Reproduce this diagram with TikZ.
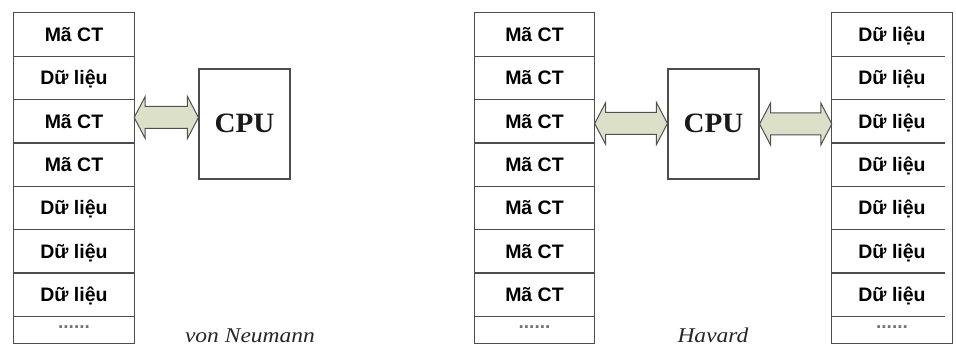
\documentclass[tikz,border=0pt]{standalone}
\usepackage{fontspec}
\setmainfont{Liberation Serif}
\setsansfont{Liberation Sans}
\usepackage{graphicx}
\usetikzlibrary{calc}

\definecolor{frame}{HTML}{4D4D4D}
\definecolor{busfill}{HTML}{DCE0C9}
\definecolor{busline}{HTML}{505050}

\tikzset{
  cell/.style={minimum width=120pt, minimum height=43.3pt, inner sep=0pt,
    text height=14pt, text depth=0pt,
    font=\sffamily\bfseries\fontsize{19.5}{19.5}\selectfont},
  endcell/.style={minimum width=120pt, minimum height=27pt, inner sep=0pt,
    text=black!55, font=\sffamily\bfseries\fontsize{19}{19}\selectfont},
  cpubox/.style={draw=frame, line width=1.1pt, minimum width=91pt,
    minimum height=110pt, inner sep=0pt, text=black!90,
    font=\bfseries\fontsize{28}{28}\selectfont},
  memframe/.style={draw=frame, line width=1.3pt},
  divider/.style={draw=frame, line width=1.3pt},
  bus/.style={draw=busline, fill=busfill, line width=1pt, line join=miter},
  caption/.style={text=black!85, anchor=base,
    font=\itshape\fontsize{21}{21}\selectfont},
}

% Double-headed bus arrow from #1.east to #2.west, centred on the
% height of node #3 moved up by #4 units.
\newcommand\busarrow[4]{%
  \path (#3.center) ++(0,-#4) coordinate (busy);
  \draw[bus] let \p1=(#1.east), \p2=(#2.west), \p3=(busy) in
    (\x1,\y3) -- (\x1+11pt,\y3+21pt) -- (\x1+11pt,\y3+11pt)
    -- (\x2-11pt,\y3+11pt) -- (\x2-11pt,\y3+21pt) -- (\x2,\y3)
    -- (\x2-11pt,\y3-21pt) -- (\x2-11pt,\y3-11pt)
    -- (\x1+11pt,\y3-11pt) -- (\x1+11pt,\y3-21pt) -- cycle;}

% Memory column: prefix #1, centre x #2, cell texts #3, divider gap #4
\newcommand\memcolumn[4]{%
  \foreach \t [count=\i, evaluate=\i as \yc using 13+43.3*\i-21.65] in {#3}
    \node[cell] (#1\i) at (#2,\yc) {\t};
  \node[endcell] (#18) at (#2,329.5) {\raisebox{4.5pt}{......}};
  \draw[memframe] (#11.north west) rectangle (#18.south east);
  \foreach \i in {1,...,7}
    \draw[divider] (#1\i.south west) -- ([xshift=-#4pt]#1\i.south east);
}

\begin{document}
\begin{tikzpicture}[x=1pt,y=-1pt]
  \useasboundingbox (0,0) rectangle (956,350);

  % von Neumann: one memory for code and data
  \memcolumn{V}{74}{Mã CT,Dữ liệu,Mã CT,Mã CT,Dữ liệu,Dữ liệu,Dữ liệu}{0}
  \node[cpubox] (C1) at (244.5,124) {\raisebox{1.5pt}{\scalebox{1.04}[1]{CPU}}};
  \busarrow{V3}{C1}{C1}{6.5}
  \node[caption] (vnlabel) at (250,342) {\scalebox{1.12}[1]{von Neumann}};

  % Harvard: separate code and data memories
  \memcolumn{H}{534.5}{Mã CT,Mã CT,Mã CT,Mã CT,Mã CT,Mã CT,Mã CT}{0}
  \memcolumn{D}{892}{Dữ liệu,Dữ liệu,Dữ liệu,Dữ liệu,Dữ liệu,Dữ liệu,Dữ liệu}{7}
  \node[cpubox] (C2) at (713.5,124) {\raisebox{1.5pt}{\scalebox{1.04}[1]{CPU}}};
  \busarrow{H3}{C2}{C2}{0.5}
  \busarrow{C2}{D3}{C2}{0}
  \node[caption] (hvlabel) at (713,342) {\scalebox{1.12}[1]{Havard}};
\end{tikzpicture}
\end{document}
